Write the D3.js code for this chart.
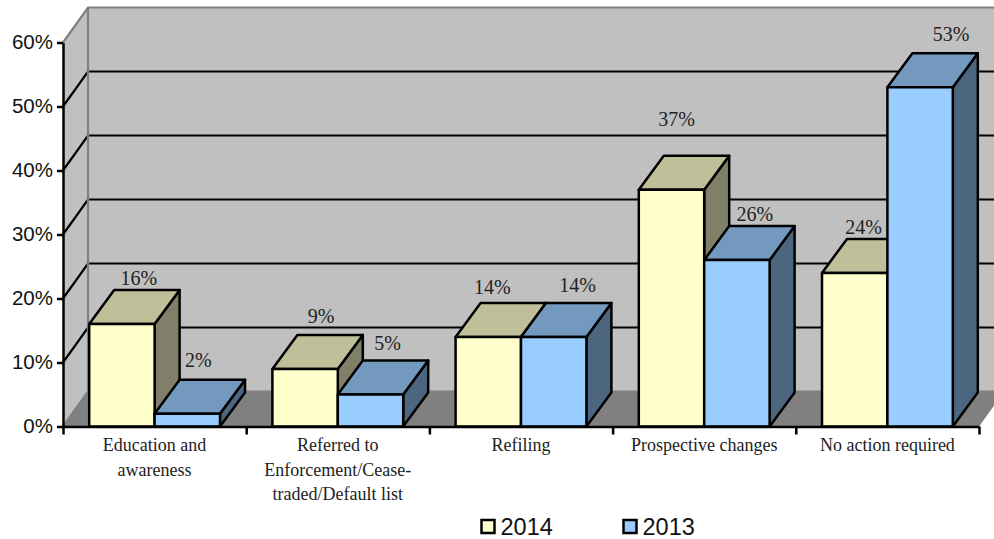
<!DOCTYPE html>
<html>
<head>
<meta charset="utf-8">
<script src="https://cdn.jsdelivr.net/npm/d3@7"></script>
<style>
  html, body { margin: 0; padding: 0; background: #fff; overflow: hidden; }
  svg { display: block; }
  .sans { font-family: "Liberation Sans", Arial, sans-serif; fill: #111; }
  .serif { font-family: "Liberation Serif", "Times New Roman", serif; fill: #222; }
</style>
</head>
<body>
<script>
const categories = [
  'Education and|awareness',
  'Referred to|Enforcement/Cease-|traded/Default list',
  'Refiling',
  'Prospective changes',
  'No action required'
];
const values2014 = [16, 9, 14, 37, 24];
const values2013 = [2, 5, 14, 26, 53];
const yTicks = [0, 10, 20, 30, 40, 50, 60];

// hand placed data labels, offset from the bar's front top centre
const nudge2014 = [[17, -39], [16, -46], [4, -43], [5, -64], [9, -39]];
const nudge2013 = [[11, -47], [17, -45], [24, -45], [18, -39], [31, -46]];

const width = 994, height = 539;
const depthX = 25, depthY = 34, wallDepthY = 35;

const x = d3.scaleBand().domain(categories).range([63, 979]);
const y = d3.scaleLinear().domain([0, 60]).range([426.5, 42.5]);

const barW = x.bandwidth() * 0.357;
const barPad = x.bandwidth() * 0.143;

const svg = d3.select('body').append('svg')
  .attr('width', width)
  .attr('height', height);

const series = [
  { name: '2014', values: values2014, nudge: nudge2014, front: '#ffffcc', top: '#bfbf99', side: '#80806a', off: 0 },
  { name: '2013', values: values2013, nudge: nudge2013, front: '#99ccff', top: '#7399bf', side: '#4d6680', off: 1 }
];

const poly = pts => pts.map(p => p.join(',')).join(' ');
const x0 = x.range()[0], x1 = x.range()[1];

// walls and floor
svg.append('polygon')
  .attr('points', poly([[x0, y(60)], [x0 + depthX, y(60) - wallDepthY], [x1 + depthX, y(60) - wallDepthY], [x1 + depthX, y(0) - wallDepthY], [x1, y(0)], [x0, y(0)]]))
  .attr('fill', '#c0c0c0');
svg.append('polygon')
  .attr('points', poly([[x0, y(0)], [x0 + depthX, y(0) - wallDepthY], [x1 + depthX, y(0) - wallDepthY], [x1, y(0)]]))
  .attr('fill', '#808080');

// gridlines, the 0 and 60 ones are grey
yTicks.forEach(t => {
  const edge = t === 0 || t === 60;
  svg.append('polyline')
    .attr('points', poly([[x0, y(t)], [x0 + depthX, y(t) - wallDepthY], [x1 + depthX, y(t) - wallDepthY]]))
    .attr('fill', 'none')
    .attr('stroke', edge ? '#808080' : '#000')
    .attr('stroke-width', 2.2);
});
svg.append('line')
  .attr('x1', x0 + depthX).attr('x2', x0 + depthX)
  .attr('y1', y(60) - wallDepthY).attr('y2', y(0) - wallDepthY)
  .attr('stroke', '#808080')
  .attr('stroke-width', 2.2);

// bars, left to right so later ones cover the earlier sides
categories.forEach((c, i) => {
  series.forEach(s => {
    const v = s.values[i];
    const l = x(c) + barPad + s.off * barW;
    const r = l + barW;
    const t = y(v), b = y(0);
    const g = svg.append('g')
      .attr('stroke', '#000')
      .attr('stroke-width', 2.5)
      .attr('stroke-linejoin', 'round');
    g.append('polygon')
      .attr('points', poly([[r, t], [r + depthX, t - depthY], [r + depthX, b - depthY], [r, b]]))
      .attr('fill', s.side);
    g.append('polygon')
      .attr('points', poly([[l, t], [l + depthX, t - depthY], [r + depthX, t - depthY], [r, t]]))
      .attr('fill', s.top);
    g.append('rect')
      .attr('x', l).attr('y', t)
      .attr('width', barW).attr('height', b - t)
      .attr('fill', s.front);
  });
});

// axes
const yAxis = svg.append('g')
  .attr('transform', `translate(${x0},0)`)
  .call(d3.axisLeft(y).tickValues(yTicks).tickFormat(d => d + '%').tickSize(6).tickPadding(4).tickSizeOuter(0));
yAxis.selectAll('path, line').attr('stroke', '#000').attr('stroke-width', 2.5);
yAxis.selectAll('text').attr('class', 'sans').style('font-size', '20.5px').attr('dy', '0.28em');

const tickScale = d3.scaleLinear().domain([0, categories.length]).range([x0, x1]);
const xAxis = svg.append('g')
  .attr('transform', `translate(0,${y(0)})`)
  .call(d3.axisBottom(tickScale).ticks(categories.length).tickFormat('').tickSize(8).tickSizeOuter(0));
xAxis.selectAll('path, line').attr('stroke', '#000').attr('stroke-width', 2.5);

// category labels
svg.selectAll('.cat')
  .data(categories)
  .enter().append('text')
  .attr('class', 'cat serif')
  .attr('text-anchor', 'middle')
  .style('font-size', '18px')
  .each(function(d) {
    d3.select(this).selectAll('tspan')
      .data(d.split('|'))
      .enter().append('tspan')
      .attr('x', x(d) + x.bandwidth() / 2)
      .attr('y', (l, j) => 451 + j * 24.5)
      .text(l => l);
  });

// data labels
series.forEach(s => {
  svg.selectAll('.lab' + s.name)
    .data(s.values)
    .enter().append('text')
    .attr('class', 'serif')
    .attr('text-anchor', 'middle')
    .style('font-size', '20px')
    .attr('x', (d, i) => x(categories[i]) + barPad + (s.off + 0.5) * barW + s.nudge[i][0])
    .attr('y', (d, i) => y(d) + s.nudge[i][1])
    .text(d => d + '%');
});

// legend
const legendX = d3.scalePoint().domain(series.map(s => s.name)).range([481.5, 623.5]);
const legend = svg.selectAll('.legend')
  .data(series)
  .enter().append('g')
  .attr('transform', d => `translate(${legendX(d.name)},520)`);
legend.append('rect')
  .attr('width', 13).attr('height', 13)
  .attr('fill', d => d.front)
  .attr('stroke', '#000')
  .attr('stroke-width', 2.5);
legend.append('text')
  .attr('class', 'sans')
  .attr('x', 19)
  .attr('y', 15)
  .style('font-size', '23.5px')
  .text(d => d.name);
</script>
</body>
</html>
